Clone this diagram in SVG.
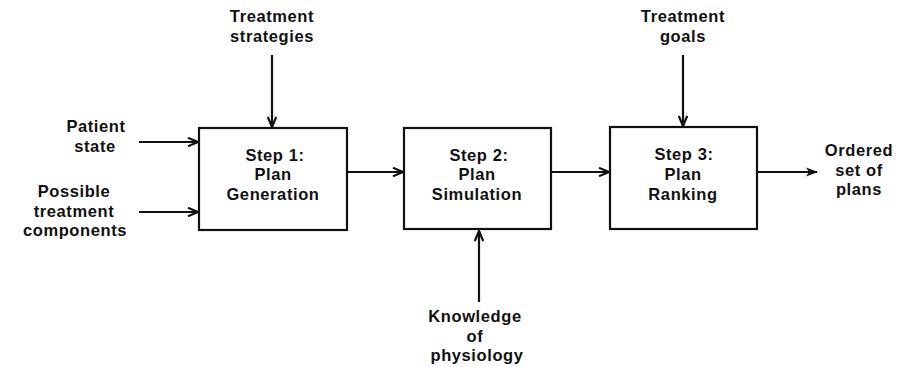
<svg xmlns="http://www.w3.org/2000/svg" width="913" height="367" viewBox="0 0 913 367">
<style>
text{font-family:"Liberation Sans",Arial,sans-serif;font-weight:bold;font-size:16.5px;letter-spacing:0.6px;fill:#111;text-anchor:middle}
.box{fill:#fff;stroke:#111;stroke-width:2.2}
.c{stroke:#111;stroke-width:2.2;fill:none}
</style>
<defs>
<marker id="ah" viewBox="0 0 12 10" refX="11" refY="5" markerWidth="12" markerHeight="10" markerUnits="userSpaceOnUse" orient="auto">
<path d="M1,0.8 L11,5 L1,9.2" fill="none" stroke="#111" stroke-width="2.2"/>
</marker>
<marker id="ahf" viewBox="0 0 12 10" refX="11" refY="5" markerWidth="12" markerHeight="10" markerUnits="userSpaceOnUse" orient="auto">
<path d="M0,0.5 L12,5 L0,9.5 L3,5 Z" fill="#111"/>
</marker>
</defs>
<g id="connectors">
<line class="c" x1="272" y1="55" x2="272" y2="127" marker-end="url(#ah)"/>
<line class="c" x1="139" y1="142" x2="198" y2="142" marker-end="url(#ah)"/>
<line class="c" x1="139" y1="212" x2="198" y2="212" marker-end="url(#ah)"/>
<line class="c" x1="347" y1="172" x2="403" y2="172" marker-end="url(#ah)"/>
<line class="c" x1="551" y1="172" x2="609" y2="172" marker-end="url(#ah)"/>
<line class="c" x1="683" y1="55" x2="683" y2="126" marker-end="url(#ah)"/>
<line class="c" x1="757" y1="172" x2="817" y2="172" marker-end="url(#ahf)"/>
<line class="c" x1="479" y1="302" x2="479" y2="231" marker-end="url(#ah)"/>
</g>
<g id="step1">
<rect class="box" x="199" y="128" width="148" height="102"/>
<text x="275" y="161">Step 1:</text>
<text x="273" y="180">Plan</text>
<text x="273" y="199.5">Generation</text>
</g>
<g id="step2">
<rect class="box" x="404" y="128" width="147" height="101"/>
<text x="479" y="161">Step 2:</text>
<text x="477" y="180">Plan</text>
<text x="477" y="199.5">Simulation</text>
</g>
<g id="step3">
<rect class="box" x="610" y="127" width="147" height="102"/>
<text x="684" y="160">Step 3:</text>
<text x="683" y="180">Plan</text>
<text x="683" y="199.5">Ranking</text>
</g>
<g id="treatment-strategies">
<text x="272" y="22">Treatment</text>
<text x="272" y="41.5">strategies</text>
</g>
<g id="treatment-goals">
<text x="683" y="22">Treatment</text>
<text x="683" y="41.5">goals</text>
</g>
<g id="patient-state">
<text x="96" y="132">Patient</text>
<text x="95" y="151.5">state</text>
</g>
<g id="possible-components">
<text x="74" y="197">Possible</text>
<text x="74" y="216.5">treatment</text>
<text x="75" y="236">components</text>
</g>
<g id="ordered-set">
<text x="859" y="156">Ordered</text>
<text x="859" y="175.5">set of</text>
<text x="859" y="195">plans</text>
</g>
<g id="knowledge">
<text x="475" y="322">Knowledge</text>
<text x="475" y="341.5">of</text>
<text x="477" y="361">physiology</text>
</g>
</svg>
